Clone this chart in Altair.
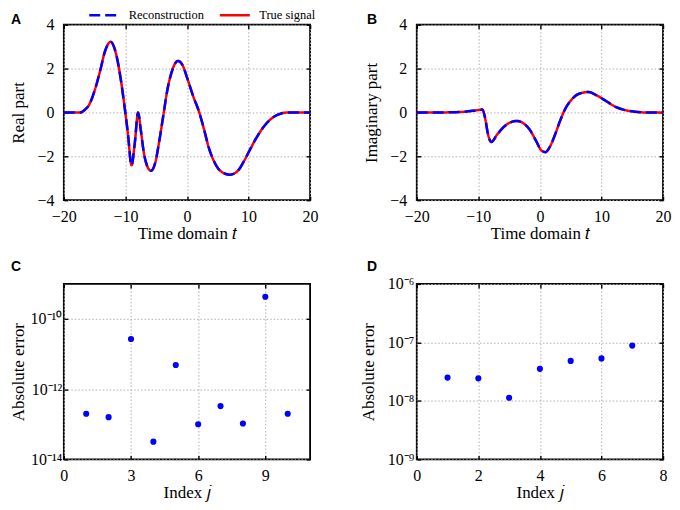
import altair as alt
import pandas as pd

# ---------------- data ----------------
t_a = [-20, -18, -17.3, -16.6, -16.0, -14.9, -14.1, -13.3, -12.4, -11.5,
       -10.8, -10.2, -9.6, -9.0, -8.47, -7.94, -7.5, -7.0, -6.47, -5.84,
       -5.15, -4.46, -3.83, -3.2, -2.5, -1.46, -0.67, 0.0, 1.0, 2.0,
       2.8, 3.56, 4.35, 5.4, 6.96, 8.27, 9.3, 10.1, 11.4, 12.7,
       14.0, 15.3, 16.4, 18, 20]
real_part = [0, 0, 0, 0.12, 0.3, 1.08, 1.9, 2.8, 3.22, 2.65,
             1.6, 0.4, -0.94, -2.41, -1.39, 0.0, -0.8, -1.84, -2.44, -2.66,
             -2.29, -1.24, -0.12, 1.0, 1.83, 2.35, 2.13, 1.6, 0.75, 0.0,
             -0.8, -1.62, -2.2, -2.66, -2.84, -2.66, -2.2, -1.77, -1.1, -0.57,
             -0.22, -0.05, 0, 0, 0]

t_b = [-20, -16, -14, -12.3, -10.7, -9.37, -8.84, -8.47, -7.88, -6.98,
       -5.9, -4.85, -3.76, -2.7, -1.64, -0.58, 0.2, 0.9, 1.67, 2.45,
       3.23, 4.0, 5.05, 6.35, 7.9, 9.2, 10.8, 12.3, 13.9, 15.5, 17, 20]
imag_part = [0, 0, 0.01, 0.03, 0.08, 0.13, -0.34, -0.94, -1.35, -1.02,
             -0.67, -0.46, -0.39, -0.49, -0.79, -1.32, -1.72, -1.81, -1.54, -1.02,
             -0.42, 0.1, 0.55, 0.85, 0.93, 0.78, 0.51, 0.25, 0.1, 0.03, 0, 0]

j_c = [1, 2, 3, 4, 5, 6, 7, 8, 9, 10]
err_c = [2.0e-13, 1.6e-13, 2.7e-11, 3.2e-14, 4.9e-12, 1.0e-13, 3.3e-13, 1.05e-13, 4.3e-10, 2.0e-13]

j_d = [1, 2, 3, 4, 5, 6, 7]
err_d = [2.5e-8, 2.43e-8, 1.13e-8, 3.53e-8, 4.82e-8, 5.33e-8, 8.83e-8]

series_names = ["Reconstruction", "True signal"]
series_colors = ["#0000ff", "#ff0000"]

x_ticks_ab = [-20, -10, 0, 10, 20]
y_ticks_ab = [-4, -2, 0, 2, 4]
x_ticks_c = [0, 3, 6, 9]
y_ticks_c = [1e-14, 1e-12, 1e-10]
x_ticks_d = [0, 2, 4, 6, 8]
y_ticks_d = [1e-9, 1e-8, 1e-7, 1e-6]

SERIF = "Liberation Serif"
SANS = "Liberation Sans"
W, H = 247, 176


def main_axis(values, title, label_padding, title_padding, label_expr=None):
    kw = dict(values=values, title=title, offset=-4, tickSize=4, tickWidth=1.4,
              tickColor="black", domain=False, grid=True, gridColor="#b0b0b0",
              gridDash=[1.5, 2], gridWidth=1, labelFont=SERIF, labelFontSize=16,
              labelColor="black", labelPadding=label_padding, labelFlush=False,
              labelOverlap=False, titleFont=SERIF, titleFontSize=17,
              titleFontWeight="normal", titleColor="black",
              titlePadding=title_padding)
    if label_expr:
        kw["labelExpr"] = label_expr
    return alt.Axis(**kw)


def mirror_axis(values, orient):
    return alt.Axis(values=values, orient=orient, title=None, labels=False,
                    offset=-4, tickSize=4, tickWidth=1.4, tickColor="black",
                    domain=False, grid=False)


def panel_label(text, dx, dy):
    return alt.Chart(pd.DataFrame({"label": [text]})).mark_text(
        font=SANS, fontSize=14, fontWeight="bold", color="black",
        align="left", baseline="alphabetic"
    ).encode(text="label:N", x=alt.value(dx), y=alt.value(dy))


def signal_panel(t, v, ytitle, label, ytp, ldx):
    df = pd.DataFrame({
        "t": list(t) + list(t),
        "v": list(v) + list(v),
        "series": ["True signal"] * len(t) + ["Reconstruction"] * len(t),
    })
    legend = alt.Legend(title=None, orient="none", legendX=34, legendY=-16,
                        direction="horizontal", symbolType="M-3,0H3",
                        symbolSize=100, symbolStrokeWidth=2.5, labelFont=SERIF,
                        labelFontSize=12.5, labelColor="black", labelOffset=18,
                        columnPadding=10, padding=0)
    color = alt.Color("series:N", title=None, legend=legend,
                      scale=alt.Scale(domain=series_names, range=series_colors))
    dash = alt.StrokeDash("series:N", title=None, legend=legend,
                          scale=alt.Scale(domain=series_names, range=[[11, 5], [1, 0]]))
    xs = alt.Scale(domain=[-20, 20], nice=False, zero=False)
    ys = alt.Scale(domain=[-4, 4], nice=False, zero=False)
    x = alt.X("t:Q", scale=xs, axis=main_axis(x_ticks_ab, "Time domain 𝑡", 8, 1))
    y = alt.Y("v:Q", scale=ys, axis=main_axis(y_ticks_ab, ytitle, 10, ytp))
    base = alt.Chart(df)
    true_line = base.transform_filter(alt.datum.series == "True signal").mark_line(
        strokeWidth=2.5, interpolate="monotone", strokeCap="butt"
    ).encode(x=x, y=y, color=color, strokeDash=dash)
    recon_line = base.transform_filter(alt.datum.series == "Reconstruction").mark_line(
        strokeWidth=2.5, interpolate="monotone", strokeCap="butt"
    ).encode(x=x, y=y, color=color, strokeDash=dash)
    mirror = base.mark_point(opacity=0).encode(
        x=alt.X("t:Q", scale=xs, axis=mirror_axis(x_ticks_ab, "top")),
        y=alt.Y("v:Q", scale=ys, axis=mirror_axis(y_ticks_ab, "right")),
    )
    return alt.layer(
        alt.layer(true_line, recon_line), mirror, panel_label(label, ldx, -1)
    ).resolve_axis(x="independent", y="independent").properties(width=W, height=H)


def error_panel(j, err, xdom, xticks, ydom, yticks, label_expr, label, lp, ytp, ldx):
    df = pd.DataFrame({"j": j, "err": err})
    xs = alt.Scale(domain=xdom, nice=False, zero=False)
    ys = alt.Scale(type="log", domain=ydom, nice=False)
    pts = alt.Chart(df).mark_circle(size=38, color="#0000ff", opacity=1).encode(
        x=alt.X("j:Q", scale=xs, axis=main_axis(xticks, "Index 𝑗", 8, 1)),
        y=alt.Y("err:Q", scale=ys,
                axis=main_axis(yticks, "Absolute error", lp, ytp, label_expr)),
    )
    mirror = alt.Chart(df).mark_point(opacity=0).encode(
        x=alt.X("j:Q", scale=xs, axis=mirror_axis(xticks, "top")),
        y=alt.Y("err:Q", scale=ys, axis=mirror_axis(yticks, "right")),
    )
    return alt.layer(pts, mirror, panel_label(label, ldx, -13)).resolve_axis(
        x="independent", y="independent"
    ).properties(width=W, height=H)


label_c = ("datum.value < 1e-13 ? '10⁻¹⁴' : datum.value < 1e-11 ? '10⁻¹²' : '10⁻¹⁰'")
label_d = ("datum.value < 5e-9 ? '10⁻⁹' : datum.value < 5e-8 ? '10⁻⁸' : "
           "datum.value < 5e-7 ? '10⁻⁷' : '10⁻⁶'")

pa = signal_panel(t_a, real_part, "Real part", "A", 9, -53)
pb = signal_panel(t_b, imag_part, "Imaginary part", "B", 9, -50)
pc = error_panel(j_c, err_c, [0, 11], x_ticks_c, [1e-14, 1e-9], y_ticks_c,
                 label_c, "C", 2, 3, -53)
pd_ = error_panel(j_d, err_d, [0, 8], x_ticks_d, [1e-9, 1e-6], y_ticks_d,
                  label_d, "D", 3, 10, -50)

chart = alt.concat(
    pa, pb, pc, pd_, columns=2, spacing={"row": 84, "column": 107}, bounds="flush"
).properties(
    padding={"left": 0, "top": 0, "right": 0, "bottom": 0}
).configure_view(stroke="black", strokeWidth=1.8)

chart.save("out.html", embed_options={"renderer": "svg", "actions": False})
